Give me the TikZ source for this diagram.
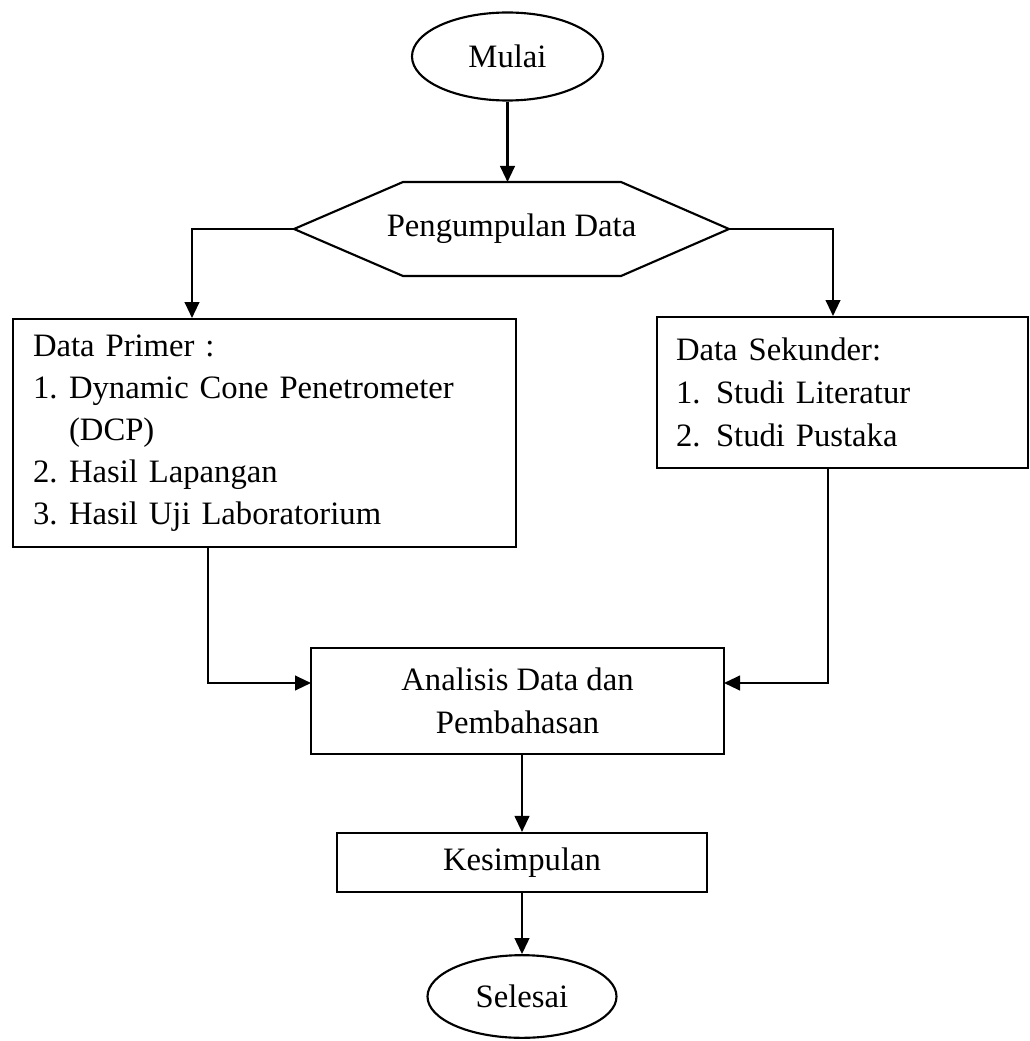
\documentclass[tikz,border=0pt]{standalone}
\usepackage{fontspec}
\setmainfont{Liberation Serif}
\usetikzlibrary{shapes.geometric,arrows.meta}
\begin{document}
\begin{tikzpicture}[x=0.75pt,y=-0.75pt,
  every node/.style={font=\fontsize{24.5pt}{32pt}\selectfont, inner sep=0pt},
  ln/.style={line width=1.6pt},
  arr/.style={ln,-{Triangle[length=12pt,width=11pt]}},
  oval/.style={ellipse,draw,ln},
  boxnode/.style={rectangle,draw,ln}]
\useasboundingbox (0,0) rectangle (1029,1041);
% start
\node[oval,minimum width=143.25pt,minimum height=66pt] (mulai) at (507.5,56.5) {Mulai};
% hexagon
\coordinate (hexL) at (294,229);
\coordinate (hexR) at (729,229);
\coordinate (hexTL) at (403,182);
\coordinate (hexTR) at (621,182);
\coordinate (hexBL) at (403,276);
\coordinate (hexBR) at (621,276);
\coordinate (hexT) at (507.5,182);
\draw[ln,line join=miter] (hexL) -- (hexTL) -- (hexTR) -- (hexR) -- (hexBR) -- (hexBL) -- cycle;
\node (pengumpulan) at (511.5,229) {Pengumpulan Data};
% primary data
\node[boxnode, anchor=north west, minimum width=377.25pt, minimum height=171pt,
      text width=347.25pt, inner xsep=15pt, align=left,
      font=\fontsize{24.5pt}{31.5pt}\selectfont] (primer) at (12,318)
  {Data Primer :\\
   \makebox[27pt][l]{1.}Dynamic Cone Penetrometer\\
   \hspace*{27pt}(DCP)\\
   \makebox[27pt][l]{2.}Hasil Lapangan\\
   \makebox[27pt][l]{3.}Hasil Uji Laboratorium};
% secondary data
\node[boxnode, anchor=north west, minimum width=278.25pt, minimum height=113.25pt,
      text width=249.75pt, inner xsep=14.25pt, align=left,
      font=\fontsize{24.5pt}{32.25pt}\selectfont] (sekunder) at (656,316)
  {Data Sekunder:\\
   \makebox[30pt][l]{1.}Studi Literatur\\
   \makebox[30pt][l]{2.}Studi Pustaka};
% analysis
\node[boxnode, minimum width=309.75pt, minimum height=79.5pt, align=center] (analisis) at (517.5,701)
  {Analisis Data dan\\Pembahasan};
% conclusion
\node[boxnode, minimum width=277.5pt, minimum height=44.25pt] (kesimpulan) at (522,862.5) {Kesimpulan};
% end
\node[oval,minimum width=141.75pt,minimum height=62pt] (selesai) at (522,996.5) {Selesai};
% connectors
\coordinate (primerIn) at (192,318);
\coordinate (sekunderIn) at (833,316);
\coordinate (primerOut) at (208,546);
\coordinate (sekunderOut) at (828,467);
\coordinate (anInL) at (311,683);
\coordinate (anInR) at (724,683);
\draw[arr] (mulai.south) -- (hexT);
\draw[arr] (hexL) -| (primerIn);
\draw[arr] (hexR) -| (sekunderIn);
\draw[arr] (primerOut) |- (anInL);
\draw[arr] (sekunderOut) |- (anInR);
\draw[arr] (analisis.south -| kesimpulan.north) -- (kesimpulan.north);
\draw[arr] (kesimpulan.south) -- (selesai.north);
\end{tikzpicture}
\end{document}
